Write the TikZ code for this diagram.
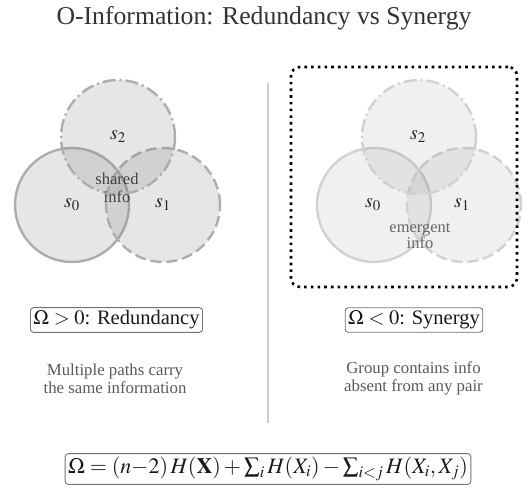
\documentclass[tikz,border=0pt]{standalone}
\usepackage{mathptmx}
\usepackage[no-math]{fontspec}
\setmainfont{Liberation Serif}
\begin{document}
\begin{tikzpicture}[x=1pt,y=-1pt,
  venn/.style={circle, minimum size=114pt, inner sep=0pt, line width=2.4pt},
  lvenn/.style={venn, draw=black!32, fill=gray, fill opacity=0.2},
  rvenn/.style={venn, draw=black!18, fill=gray, fill opacity=0.12},
  dashA/.style={dash pattern=on 11pt off 5pt},
  dashB/.style={dash pattern=on 13pt off 4pt on 2pt off 4pt},
  lbl/.style={font=\fontsize{20}{24}\selectfont, text=black!85, inner sep=0pt},
  note/.style={align=center, inner sep=0pt},
  obox/.style={draw=black!55, rounded corners=3pt, line width=0.9pt, inner sep=3pt, text=black!90, font=\fontsize{20.5}{24}\selectfont},
  desc/.style={align=center, text=black!65, font=\fontsize{16.8}{17.5}\selectfont, inner sep=0pt}
]
\useasboundingbox (0,0) rectangle (529,497);
\node[anchor=base, text=black!80, font=\fontsize{25.7}{30}\selectfont] (title) at (264,25) {O-Information: Redundancy vs Synergy};

% left panel
\node[lvenn] (l0) at (72,205) {};
\node[lvenn, dashA] (l1) at (163,205) {};
\node[lvenn, dashB] (l2) at (118,137) {};
\node[lbl] (l0t) at (72,205) {$s_0$};
\node[lbl] (l1t) at (163,205) {$s_1$};
\node[lbl] (l2t) at (118,137) {$s_2$};
\node[note, text=black!75, font=\fontsize{16.5}{17.5}\selectfont] (shared) at (117,188) {shared\\info};

% divider
\coordinate (dtop) at (268,83);
\coordinate (dbot) at (268,423);
\draw[black!20, line width=1.6pt] (dtop) -- (dbot);

% right panel
\node[rvenn] (r0) at (374,205) {};
\node[rvenn, dashA] (r1) at (464,205) {};
\node[rvenn, dashB] (r2) at (419,137) {};
\node[lbl] (r0t) at (373,205) {$s_0$};
\node[lbl] (r1t) at (462,205) {$s_1$};
\node[lbl] (r2t) at (418,137) {$s_2$};
\node[note, text=black!60, font=\fontsize{16.5}{16}\selectfont] (emerg) at (420,236) {emergent\\info};
\node[draw=black, line width=2.6pt, dash pattern=on 2.6pt off 4.1pt, rounded corners=9pt,
      minimum width=226pt, minimum height=220pt] (synbox) at (404,177) {};

% labels
\node[obox] (red) at (116.5,320) {$\Omega>0$: Redundancy};
\node[obox] (syn) at (414,320) {$\Omega<0$: Synergy};
\node[desc] (dl) at (115,378.5) {Multiple paths carry\\the same information};
\node[desc] (dr) at (413.5,378.5) {Group contains info\\absent from any pair};

% formula
\node[obox, font=\fontsize{22}{26}\selectfont] (formula) at (268,469) {$\Omega=(n{-}2)\,H(\mathbf{X})+\textstyle\sum_i H(X_i)-\sum_{i<j}H(X_i,X_j)$};
\end{tikzpicture}
\end{document}
